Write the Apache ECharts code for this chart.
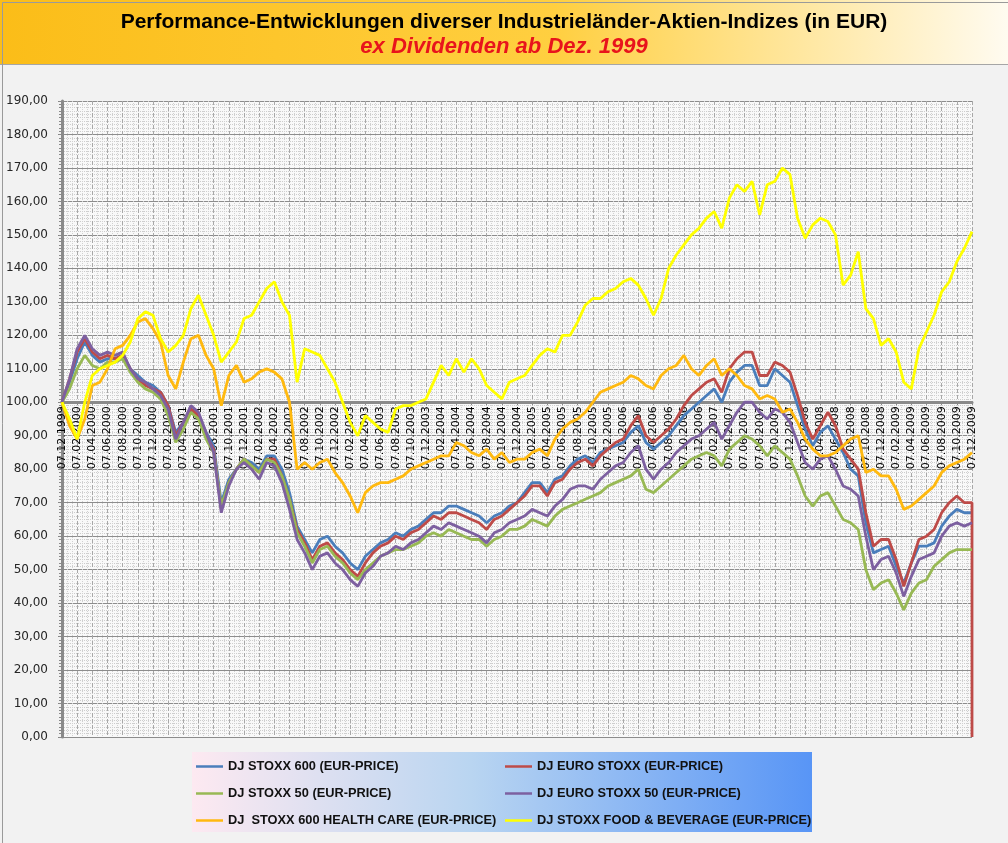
<!DOCTYPE html>
<html>
<head>
<meta charset="UTF-8">
<script src="https://cdn.jsdelivr.net/npm/echarts@6.0.0/dist/echarts.min.js"></script>
<style>
  html, body { margin: 0; padding: 0; background: #f2f2f2; }
  #main { width: 1008px; height: 843px; }
</style>
</head>
<body>
<div id="main"></div>
<script type="text/javascript">
  // x tick labels, one every 2 months
  var dateLabels = [
    '07.12.1999',
    '07.02.2000', '07.04.2000', '07.06.2000', '07.08.2000', '07.10.2000', '07.12.2000',
    '07.02.2001', '07.04.2001', '07.06.2001', '07.08.2001', '07.10.2001', '07.12.2001',
    '07.02.2002', '07.04.2002', '07.06.2002', '07.08.2002', '07.10.2002', '07.12.2002',
    '07.02.2003', '07.04.2003', '07.06.2003', '07.08.2003', '07.10.2003', '07.12.2003',
    '07.02.2004', '07.04.2004', '07.06.2004', '07.08.2004', '07.10.2004', '07.12.2004',
    '07.02.2005', '07.04.2005', '07.06.2005', '07.08.2005', '07.10.2005', '07.12.2005',
    '07.02.2006', '07.04.2006', '07.06.2006', '07.08.2006', '07.10.2006', '07.12.2006',
    '07.02.2007', '07.04.2007', '07.06.2007', '07.08.2007', '07.10.2007', '07.12.2007',
    '07.02.2008', '07.04.2008', '07.06.2008', '07.08.2008', '07.10.2008', '07.12.2008',
    '07.02.2009', '07.04.2009', '07.06.2009', '07.08.2009', '07.10.2009', '07.12.2009'
  ];

  var seriesNames = [
    'DJ STOXX 600 (EUR-PRICE)',
    'DJ EURO STOXX (EUR-PRICE)',
    'DJ STOXX 50 (EUR-PRICE)',
    'DJ EURO STOXX 50 (EUR-PRICE)',
    'DJ  STOXX 600 HEALTH CARE (EUR-PRICE)',
    'DJ STOXX FOOD & BEVERAGE (EUR-PRICE)'
  ];
  var seriesColors = ['#4a7ebb', '#be4b48', '#98b954', '#7d60a0', '#ffb90f', '#ffff00'];

  // monthly values, Dec 1999 = 100 ... Dec 2009
  var stoxx600 = [
    100, 106, 113, 118, 114, 112, 113, 113, 114, 110, 108, 106, 105, 103, 99, 91, 94, 98, 96, 91, 87, 70, 77, 80, 83, 82, 80, 84, 84, 80, 73, 63,
    59, 55, 59, 60, 57, 55, 52, 50, 54, 56, 58, 59, 61, 60, 62, 63, 65, 67, 67, 69, 69, 68, 67, 66, 64, 66, 67, 69, 70,
    73, 76, 76, 73, 77, 78, 81, 83, 84, 82, 85, 86, 87, 88, 91, 93, 88, 86, 88, 90, 93, 96, 98, 100, 102, 104, 100, 106, 109, 111, 111, 105,
    105, 110, 108, 106, 99, 92, 87, 91, 93, 89, 85, 80, 78, 64, 55, 56, 57, 51, 46, 52, 57, 57, 58, 63, 66, 68, 67, 67
  ];
  var euroStoxx = [
    100, 107, 115, 119, 115, 113, 114, 113, 114, 110, 107, 105, 104, 103, 99, 90, 94, 98, 96, 90, 86, 68, 76, 80, 83, 81, 79, 83, 83, 78, 71, 62,
    58, 53, 57, 58, 55, 53, 50, 48, 52, 55, 57, 58, 60, 59, 61, 62, 64, 66, 65, 67, 67, 66, 65, 64, 62, 65, 66, 68, 70,
    72, 75, 75, 72, 76, 77, 80, 82, 83, 81, 84, 86, 88, 89, 93, 96, 90, 88, 90, 92, 95, 99, 102, 104, 106, 107, 103, 110, 113, 115, 115, 108,
    108, 112, 111, 109, 102, 94, 89, 93, 97, 93, 86, 83, 80, 67, 57, 59, 59, 53, 45, 52, 59, 60, 62, 67, 70, 72, 70, 70
  ];
  var euroStoxxEnd = 0; // last day of the series is empty
  var stoxx50 = [
    100, 104, 110, 114, 111, 110, 112, 112, 113, 109, 106, 104, 103, 101, 96, 88, 92, 97, 95, 89, 85, 69, 76, 80, 83, 81, 79, 83, 82, 78, 71, 61,
    57, 52, 56, 57, 54, 52, 49, 47, 50, 52, 54, 55, 56, 56, 57, 58, 60, 61, 60, 62, 61, 60, 59, 59, 57, 59, 60, 62, 62,
    63, 65, 64, 63, 66, 68, 69, 70, 71, 72, 73, 75, 76, 77, 78, 80, 74, 73, 75, 77, 79, 81, 83, 84, 85, 84, 81, 86, 88, 90, 89, 87,
    84, 87, 85, 83, 78, 72, 69, 72, 73, 69, 65, 64, 62, 50, 44, 46, 47, 43, 38, 43, 46, 47, 51, 53, 55, 56, 56, 56
  ];
  var euroStoxx50 = [
    100, 107, 116, 120, 116, 114, 115, 114, 115, 110, 107, 106, 104, 102, 98, 89, 94, 99, 97, 91, 85, 67, 75, 80, 82, 80, 77, 82, 81, 76, 68, 59,
    55, 50, 54, 55, 52, 50, 47, 45, 49, 51, 54, 55, 57, 56, 58, 59, 61, 63, 62, 64, 63, 62, 61, 60, 58, 61, 62, 64, 65,
    66, 68, 67, 66, 69, 71, 74, 75, 75, 74, 77, 79, 81, 82, 85, 87, 80, 77, 80, 82, 85, 87, 89, 90, 92, 94, 89, 93, 97, 100, 100, 97,
    95, 98, 97, 94, 88, 82, 80, 83, 84, 80, 75, 74, 72, 60, 50, 53, 54, 49, 42, 48, 53, 54, 55, 60, 63, 64, 63, 64
  ];
  var healthCare = [
    100, 93, 89, 95, 105, 106, 110, 116, 117, 120, 124, 125, 122, 118, 108, 104, 112, 119, 120, 114, 110, 99, 108, 111, 106, 107, 109, 110, 109, 107, 100, 80,
    82, 80, 82, 83, 79, 76, 72, 67, 73, 75, 76, 76, 77, 78, 80, 81, 82, 83, 84, 84, 88, 87, 85, 84, 86, 83, 85, 82, 83,
    83, 85, 86, 84, 89, 92, 94, 95, 97, 100, 103, 104, 105, 106, 108, 107, 105, 104, 108, 110, 111, 114, 110, 108, 111, 113, 108, 110, 108, 105, 104, 101,
    102, 101, 97, 98, 94, 89, 86, 84, 84, 85, 87, 89, 90, 79, 80, 78, 78, 74, 68, 69, 71, 73, 75, 79, 81, 82, 83, 85
  ];
  var foodBeverage = [
    100, 95, 89, 100, 108, 110, 111, 112, 114, 118, 125, 127, 126, 119, 115, 117, 120, 128, 132, 126, 120, 112, 115, 118, 125, 126, 130, 134, 136, 130, 126, 106,
    116, 115, 114, 110, 106, 100, 94, 90, 96, 94, 92, 91, 98, 99, 99, 100, 101, 106, 111, 108, 113, 109, 113, 110, 105, 103, 101, 106, 107,
    108, 111, 114, 116, 115, 120, 120, 124, 129, 131, 131, 133, 134, 136, 137, 135, 131, 126, 131, 140, 144, 147, 150, 152, 155, 157, 152, 161, 165, 163, 166, 156,
    165, 166, 170, 168, 155, 149, 153, 155, 154, 150, 135, 138, 145, 128, 125, 117, 119, 115, 106, 104, 116, 121, 126, 133, 136, 142, 146, 151
  ];

  var allValues = [stoxx600, euroStoxx, stoxx50, euroStoxx50, healthCare, foodBeverage];

  var gridTop = 101, gridBottom = 106, gridLeft = 62, gridRight = 36;
  var gridHeight = 843 - gridTop - gridBottom;
  var yMax = 190, crossAt = 100;

  var series = allValues.map(function (vals, k) {
    var data = vals.map(function (v, i) { return [i, v]; });
    if (k === 1) data.push([vals.length - 1, euroStoxxEnd]);
    return {
      name: seriesNames[k],
      type: 'line',
      data: data,
      symbol: 'none',
      color: seriesColors[k],
      lineStyle: { width: 2.8, color: seriesColors[k] },
      z: 3 + k
    };
  });

  var legendText = { fontFamily: 'Liberation Sans', fontWeight: 'bold', fontSize: 12.8, color: '#111' };
  var legendBase = {
    orient: 'vertical', top: 760, padding: 0,
    icon: 'rect', itemWidth: 27, itemHeight: 2.5, itemGap: 14,
    textStyle: legendText
  };

  var chart = echarts.init(document.getElementById('main'));
  chart.setOption({
    backgroundColor: '#f2f2f2',
    animation: false,
    graphic: [
      {
        type: 'rect', left: 0, top: 0, z: -10,
        shape: { width: 1008, height: 64 },
        style: {
          fill: new echarts.graphic.LinearGradient(0, 0, 1, 0, [
            { offset: 0, color: '#fbbd18' },
            { offset: 0.55, color: '#ffcf40' },
            { offset: 1, color: '#fffbf0' }
          ])
        }
      },
      {
        type: 'line', z: -9,
        shape: { x1: 0, y1: 64.5, x2: 1008, y2: 64.5 },
        style: { stroke: '#a6a6a6', lineWidth: 1 }
      },
      {
        type: 'rect', left: 192, top: 752, z: -5,
        shape: { width: 620, height: 80 },
        style: {
          fill: new echarts.graphic.LinearGradient(0, 0, 1, 0, [
            { offset: 0, color: '#fde9f1' },
            { offset: 0.45, color: '#b9d5f1' },
            { offset: 1, color: '#5895f6' }
          ])
        }
      },
      {
        type: 'rect', left: 0, top: 0, z: 20, silent: true,
        shape: { width: 1007, height: 842 },
        style: { fill: 'none', stroke: '#9a9a9a', lineWidth: 1 }
      }
    ],
    title: [
      {
        text: 'Performance-Entwicklungen diverser Industrieländer-Aktien-Indizes (in EUR)',
        left: 'center', top: 12, padding: 0,
        textStyle: { fontFamily: 'Liberation Sans', fontWeight: 'bold', fontSize: 21, color: '#000' }
      },
      {
        text: 'ex Dividenden ab Dez. 1999',
        left: 'center', top: 36, padding: 0,
        textStyle: { fontFamily: 'Liberation Sans', fontWeight: 'bold', fontStyle: 'italic', fontSize: 22, color: '#e8141c' }
      }
    ],
    legend: [
      Object.assign({ data: [seriesNames[0], seriesNames[2], seriesNames[4]], left: 196 }, legendBase),
      Object.assign({ data: [seriesNames[1], seriesNames[3], seriesNames[5]], left: 505 }, legendBase)
    ],
    grid: {
      left: gridLeft, right: gridRight, top: gridTop, bottom: gridBottom,
      show: true, backgroundColor: '#f9f9f9', borderWidth: 0
    },
    xAxis: {
      type: 'value', min: 0, max: 120, interval: 2,
      position: 'bottom',
      offset: -gridHeight * crossAt / yMax,
      axisLine: { onZero: false, lineStyle: { color: '#8a8a8a', width: 3 } },
      axisTick: { show: true, length: 3, lineStyle: { color: '#8a8a8a' } },
      axisLabel: {
        rotate: 90, margin: 4, showMinLabel: true, showMaxLabel: true,
        fontFamily: 'DejaVu Sans', fontSize: 11, color: '#000',
        formatter: function (v) { return dateLabels[Math.round(v / 2)] || ''; }
      },
      splitLine: { show: true, lineStyle: { color: '#a8a8a8', type: 'dashed', width: 1 } },
      minorTick: { show: false, splitNumber: 3 },
      minorSplitLine: { show: true, lineStyle: { color: '#d2d2d2', type: 'dotted', width: 1 } }
    },
    yAxis: {
      type: 'value', min: 0, max: yMax, interval: 10,
      axisLine: { show: true, lineStyle: { color: '#8a8a8a', width: 3 } },
      axisTick: { show: true, length: 4, lineStyle: { color: '#8a8a8a' } },
      minorTick: { show: true, splitNumber: 10, length: 3, lineStyle: { color: '#8a8a8a' } },
      axisLabel: {
        margin: 14, fontFamily: 'DejaVu Sans', fontSize: 12, color: '#262626',
        formatter: function (v) { return v.toFixed(2).replace('.', ','); }
      },
      splitLine: { show: true, lineStyle: { color: '#8c8c8c', width: 1 } },
      minorSplitLine: { show: true, lineStyle: { color: '#cdcdcd', type: 'dotted', width: 1 } }
    },
    series: series
  });
</script>
</body>
</html>
